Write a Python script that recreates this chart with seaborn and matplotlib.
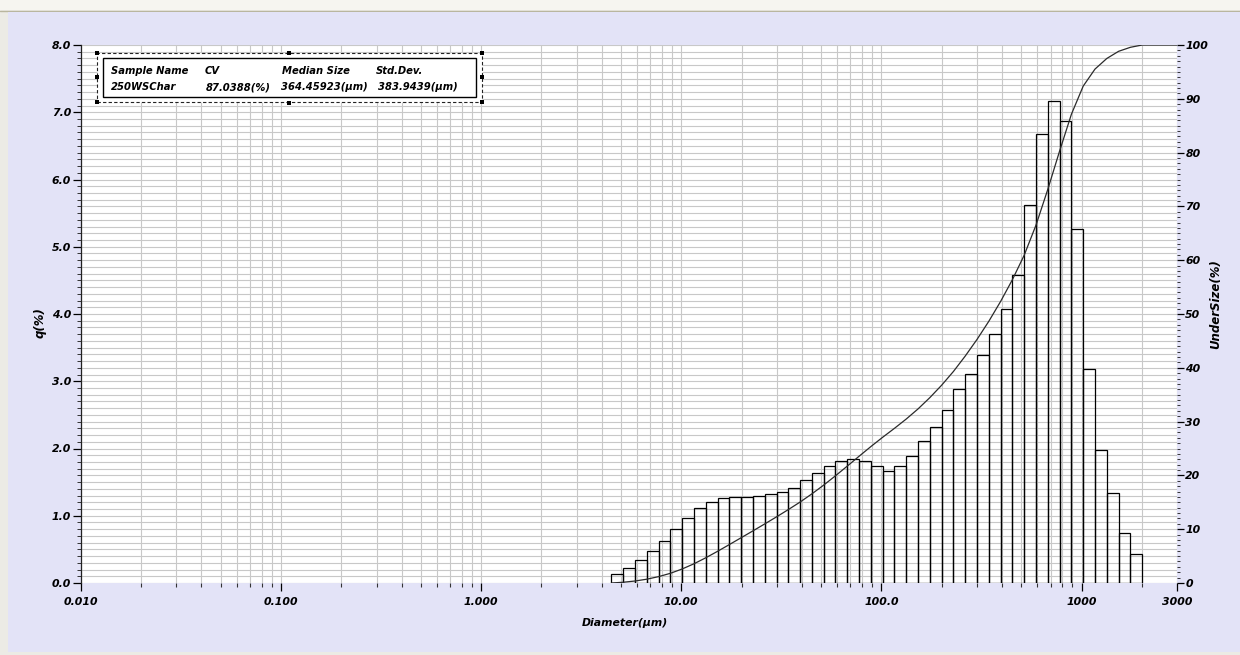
import numpy as np
import pandas as pd
import matplotlib
matplotlib.use("Agg")
import matplotlib.pyplot as plt
import seaborn as sns
from matplotlib.patches import Rectangle
from matplotlib.lines import Line2D
from matplotlib.ticker import MultipleLocator, LogLocator, NullFormatter, FixedLocator, FixedFormatter

# Size channel boundaries (um) of the laser-diffraction analyser
bin_edges = [4.472, 5.122, 5.866, 6.720, 7.697, 8.816, 10.097, 11.565, 13.246,
             15.172, 17.377, 19.904, 22.797, 26.111, 29.907, 34.255, 39.234,
             44.938, 51.471, 58.953, 67.523, 77.339, 88.583, 101.460, 116.210,
             133.103, 152.453, 174.616, 200.000, 229.075, 262.376, 300.518,
             344.206, 394.244, 451.556, 517.200, 592.387, 678.504, 777.141,
             890.116, 1019.52, 1167.73, 1337.48, 1531.92, 1754.62, 2009.70]

# Frequency q (%) in each channel
q_percent = [0.14, 0.23, 0.34, 0.48, 0.62, 0.81, 0.97, 1.12, 1.21, 1.26,
             1.28, 1.28, 1.30, 1.32, 1.36, 1.41, 1.53, 1.64, 1.74, 1.81,
             1.84, 1.81, 1.74, 1.67, 1.74, 1.89, 2.11, 2.32, 2.57, 2.88,
             3.11, 3.39, 3.71, 4.07, 4.58, 5.62, 6.68, 7.16, 6.87, 5.26,
             3.18, 1.98, 1.34, 0.75, 0.43]

x_ticks = [0.01, 0.1, 1.0, 10.0, 100.0, 1000.0, 3000.0]
x_tick_labels = ["0.010", "0.100", "1.000", "10.00", "100.0", "1000", "3000"]
q_ticks = [0, 1, 2, 3, 4, 5, 6, 7, 8]
q_tick_labels = ["0.0", "1.0", "2.0", "3.0", "4.0", "5.0", "6.0", "7.0", "8.0"]
undersize_ticks = [0, 10, 20, 30, 40, 50, 60, 70, 80, 90, 100]
undersize_tick_labels = [str(v) for v in undersize_ticks]

summary_header = ["Sample Name", "CV", "Median Size", "Std.Dev."]
summary_values = ["250WSChar", "87.0388(%)", "364.45923(\u03bcm)", "383.9439(\u03bcm)"]

sns.set_theme(style="white")
plt.rcParams["font.family"] = ["DejaVu Sans"]
plt.rcParams["text.color"] = "black"
plt.rcParams["axes.labelcolor"] = "black"
plt.rcParams["xtick.color"] = "black"
plt.rcParams["ytick.color"] = "black"

W, H = 1240, 655
LAVENDER = "#E3E3F7"
GRID = "#C8C8C8"
FS = 7.8
font = dict(fontsize=FS, fontweight="bold", fontstyle="italic", color="black")
box_font = dict(fontsize=7.2, fontweight="bold", fontstyle="italic", color="black")

fig = plt.figure(figsize=(W / 100, H / 100), dpi=100)
fig.patch.set_facecolor("#ECEBE5")


def fx(px):
    return px / W


def fy(py):
    return 1 - py / H


# window panel behind the chart
fig.add_artist(Rectangle((0, fy(10)), 1, 10 / H, transform=fig.transFigure,
                         facecolor="#F6F5F0", edgecolor="none", zorder=-3))
fig.add_artist(Line2D([0, 1], [fy(10.5), fy(10.5)], transform=fig.transFigure,
                      color="#B9B69F", lw=1.0, zorder=-2))
fig.add_artist(Rectangle((fx(8), fy(652)), 1 - fx(8), (652 - 12) / H,
                         transform=fig.transFigure, facecolor=LAVENDER,
                         edgecolor="none", zorder=-2))

ax = fig.add_axes([fx(81), fy(583), (1177 - 81) / W, (583 - 45) / H])
ax.set_facecolor("white")

edges = np.array(bin_edges)
centers = np.sqrt(edges[:-1] * edges[1:])
df = pd.DataFrame({"diameter": centers, "q": q_percent})
sns.histplot(data=df, x="diameter", weights="q", bins=bin_edges, fill=False,
             color="black", linewidth=0.9, ax=ax, zorder=3)

ax.set_xscale("log")
ax.set_xlim(0.01, 3000)
ax.set_ylim(0, 8)

# cumulative undersize curve on the secondary axis
ax2 = ax.twinx()
cum = np.cumsum(q_percent)
cum = cum / cum[-1] * 100
curve_x = [bin_edges[0]] + list(bin_edges[1:]) + [3000.0]
curve_y = [0.0] + list(cum) + [100.0]
sns.lineplot(x=curve_x, y=curve_y, ax=ax2, color="#2A2A2A", lw=0.9,
             sort=False, estimator=None)
ax2.set_ylim(0, 100)
ax.set_xlim(0.01, 3000)

# x axis ticks (set after the twin so nothing resets them)
ax.xaxis.set_major_locator(FixedLocator(x_ticks))
ax.xaxis.set_major_formatter(FixedFormatter(x_tick_labels))
ax.xaxis.set_minor_locator(LogLocator(base=10, subs=np.arange(2, 10), numticks=20))
ax.xaxis.set_minor_formatter(NullFormatter())
ax.set_yticks(q_ticks, q_tick_labels)
ax.yaxis.set_minor_locator(MultipleLocator(0.1))

ax.grid(True, which="both", axis="both", color=GRID, lw=0.8, zorder=0)
ax.set_axisbelow(True)

for side in ["top", "right", "bottom"]:
    ax.spines[side].set_visible(False)
ax.spines["left"].set_color("#222222")
ax.spines["left"].set_linewidth(0.9)

ax.tick_params(axis="x", which="major", direction="out", length=6, width=0.9,
               color="black", pad=4, bottom=True, labelsize=FS, labelcolor="black")
ax.tick_params(axis="x", which="minor", direction="out", length=3, width=0.8,
               color="#333333", bottom=True)
ax.tick_params(axis="y", which="major", direction="out", length=6, width=0.9,
               color="black", pad=1, left=True, labelsize=FS, labelcolor="black")
ax.tick_params(axis="y", which="minor", direction="out", length=3, width=0.7,
               color="#333333", left=True)
for lab in ax.get_xticklabels() + ax.get_yticklabels():
    lab.set_fontweight("bold")
    lab.set_fontstyle("italic")

ax.set_xlabel("Diameter(\u03bcm)", **font)
ax.xaxis.set_label_coords((625 - 81) / 1096, (583 - 623) / 538)
ax.xaxis.label.set_va("center")
ax.set_ylabel("q(%)", fontsize=8.5, fontweight="bold", fontstyle="italic",
              color="black")
ax.yaxis.set_label_coords((40 - 81) / 1096, (583 - 323) / 538)
ax.yaxis.label.set_va("center")

ax2.set_yticks(undersize_ticks, undersize_tick_labels)
ax2.yaxis.set_minor_locator(MultipleLocator(1))
ax2.grid(False)
for side in ["top", "right", "bottom", "left"]:
    ax2.spines[side].set_visible(False)
ax2.tick_params(axis="y", which="major", direction="out", length=5, width=0.9,
                color="black", pad=1, right=True, labelsize=FS, labelcolor="black")
ax2.tick_params(axis="y", which="minor", direction="out", length=2, width=0.7,
                color="#333333", right=True)
for lab in ax2.get_yticklabels():
    lab.set_fontweight("bold")
    lab.set_fontstyle("italic")
ax2.set_ylabel("UnderSize(%)", fontsize=8.5, fontweight="bold", fontstyle="italic",
               rotation=90, color="black")
ax2.yaxis.set_label_coords((1216 - 81) / 1096, (583 - 304) / 538)
ax2.yaxis.label.set_va("center")

# statistics box
fig.add_artist(Rectangle((fx(97), fy(102)), (482 - 97) / W, (102 - 53) / H,
                         transform=fig.transFigure, facecolor="white",
                         edgecolor="#222222", lw=0.8, linestyle=(0, (3, 2)),
                         zorder=5))
fig.add_artist(Rectangle((fx(103), fy(97)), (476 - 103) / W, (97 - 58) / H,
                         transform=fig.transFigure, facecolor="none",
                         edgecolor="black", lw=1.0, zorder=6))
for hx, hy in [(97, 53), (289, 53), (482, 53), (97, 77), (482, 77),
               (97, 102), (289, 103), (482, 102)]:
    fig.add_artist(Rectangle((fx(hx - 2), fy(hy + 2)), 4 / W, 4 / H,
                             transform=fig.transFigure, facecolor="black",
                             edgecolor="none", zorder=7))

header_x = [111, 205, 282, 376]
for txt, px in zip(summary_header, header_x):
    fig.text(fx(px), fy(70.5), txt, ha="left", va="center", zorder=8, **box_font)
fig.text(fx(111), fy(87), summary_values[0], ha="left", va="center", zorder=8, **box_font)
fig.text(fx(271), fy(87), summary_values[1], ha="right", va="center", zorder=8, **box_font)
fig.text(fx(281), fy(87), summary_values[2], ha="left", va="center", zorder=8, **box_font)
fig.text(fx(378), fy(87), summary_values[3], ha="left", va="center", zorder=8, **box_font)

fig.savefig("out.png", dpi=100, facecolor=fig.get_facecolor())
